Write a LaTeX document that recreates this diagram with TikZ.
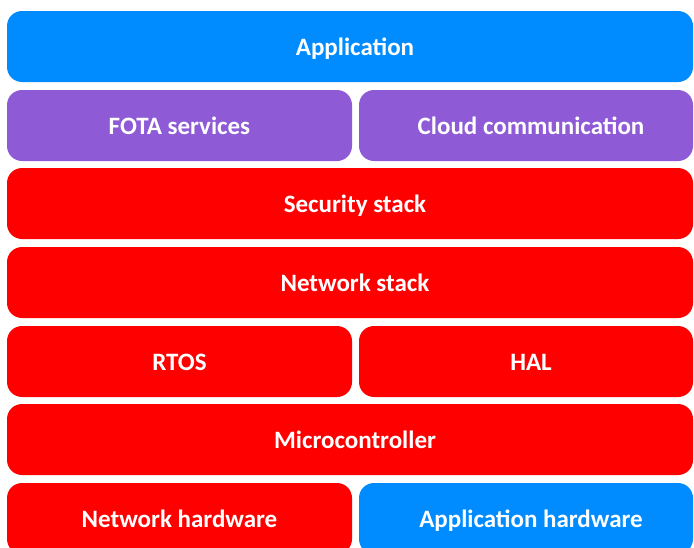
\documentclass[tikz,border=0pt]{standalone}
\usepackage{fontspec}
\setmainfont{Carlito}
\usetikzlibrary{positioning}
\definecolor{appblue}{RGB}{0,140,255}
\definecolor{svcpurple}{RGB}{142,90,214}
\definecolor{stackred}{RGB}{255,0,0}

\begin{document}
\begin{tikzpicture}[x=1pt, y=-1pt, font=\fontsize{25}{30}\selectfont\bfseries,
    layer/.style={rounded corners=15pt, minimum height=71pt, inner sep=0pt, text=white,
      text height=18pt, text depth=0pt},
    full/.style={layer, minimum width=686pt},
    lhalf/.style={layer, minimum width=345pt},
    rhalf/.style={layer, minimum width=334pt},
    txt/.style={text=white, xshift=5pt, inner sep=0pt, text height=18pt, text depth=0pt}]
    \useasboundingbox (0,0) rectangle (694,547);
    \clip (0,0) rectangle (694,547);
    % one row per layer, top to bottom
    \node[full, fill=appblue, label={[txt]center:Application}] (app) at (350,46.5) {};
    \node[lhalf, fill=svcpurple] (fota) at (179.5,125.5) {FOTA services};
    \node[rhalf, fill=svcpurple, label={[txt]center:Cloud communication}] (cloud) at (526,125.5) {};
    \node[full, fill=stackred, label={[txt]center:Security stack}] (sec) at (350,203.5) {};
    \node[full, fill=stackred, label={[txt]center:Network stack}] (net) at (350,282.5) {};
    \node[lhalf, fill=stackred] (rtos) at (179.5,361.5) {RTOS};
    \node[rhalf, fill=stackred, label={[txt]center:HAL}] (hal) at (526,361.5) {};
    \node[full, fill=stackred, label={[txt]center:Microcontroller}] (mcu) at (350,439.5) {};
    \node[lhalf, fill=stackred] (nethw) at (179.5,518.5) {Network hardware};
    \node[rhalf, fill=appblue, label={[txt]center:Application hardware}] (apphw) at (526,518.5) {};
\end{tikzpicture}
\end{document}
